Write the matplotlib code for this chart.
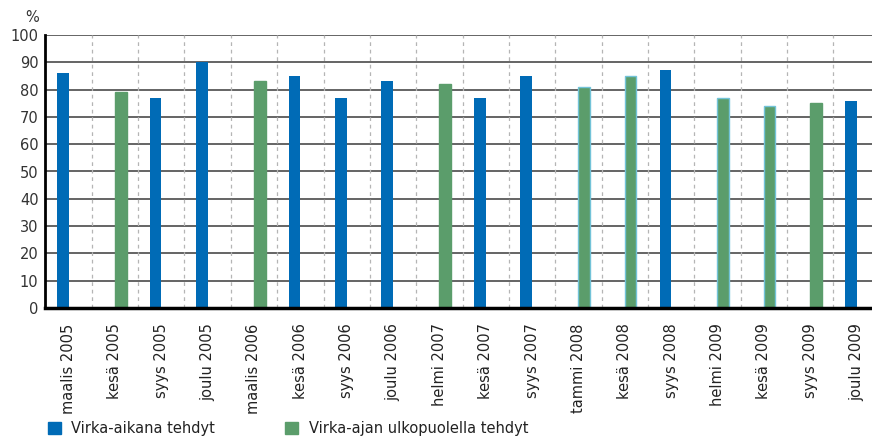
import numpy as np
import matplotlib
matplotlib.use("Agg")
import matplotlib.pyplot as plt
from matplotlib.patches import Patch

# Kyselykerrat ja arvot (%)
categories = ["maalis 2005", "kesä 2005", "syys 2005", "joulu 2005", "maalis 2006",
              "kesä 2006", "syys 2006", "joulu 2006", "helmi 2007", "kesä 2007",
              "syys 2007", "tammi 2008", "kesä 2008", "syys 2008", "helmi 2009",
              "kesä 2009", "syys 2009", "joulu 2009"]
virka_aikana = [86, 0, 77, 90, 0, 85, 77, 83, 0, 77, 85, 0, 0, 87, 0, 0, 0, 76]
virka_ajan_ulkop = [0, 79, 0, 0, 83, 0, 0, 0, 82, 0, 0, 81, 85, 0, 77, 74, 75, 0]
yticks = list(range(0, 101, 10))

blue = "#006BB6"
green = "#5B9D6B"
edge_light = "#72C3D8"

x = np.arange(len(categories))
w = 0.25

fig = plt.figure(figsize=(8.72, 4.44), dpi=100)
ax = fig.add_axes([45.4 / 872, 136 / 444, 1 - 45.4 / 872, 273 / 444])

# Horisontaaliset ja pystysuorat apuviivat
for y in yticks[1:]:
    ax.axhline(y, color="#3a3a3a", lw=1.1, zorder=1)
for b in x[:-1] + 0.5:
    ax.plot([b, b], [0, 100], color="#b5b5b5", lw=0.9, ls=(0, (3, 3)), zorder=1)

blue_vals = np.array(virka_aikana)
green_vals = np.array(virka_ajan_ulkop)
bm = blue_vals > 0
gm = green_vals > 0
ax.bar(x[bm] - w / 2, blue_vals[bm], width=w, color=blue, zorder=2)
edges = [edge_light if 11 <= i <= 15 else green for i in x[gm]]
ax.bar(x[gm] + w / 2, green_vals[gm], width=w, color=green,
       edgecolor=edges, linewidth=1.0, zorder=2)

ax.set_xlim(-0.5, -0.5 + (872 - 45.4) / 46.35)
ax.set_ylim(0, 100)
ax.set_yticks(yticks)
ax.set_xticks(x)
ax.set_xticklabels(categories, rotation=90, fontsize=10.5, color="#222222")
ax.tick_params(axis="x", length=0, pad=11)
ax.tick_params(axis="y", length=0, pad=5, labelsize=10.5, labelcolor="#333333")

for s in ["top", "right"]:
    ax.spines[s].set_visible(False)
ax.spines["left"].set_linewidth(2)
ax.spines["bottom"].set_linewidth(2.5)
ax.spines["left"].set_zorder(3)
ax.spines["bottom"].set_zorder(3)

fig.text(32 / 872, 1 - 17 / 444, "%", ha="center", va="center",
         fontsize=10.5, color="#333333")

handles = [Patch(color=blue, label="Virka-aikana tehdyt"),
           Patch(color=green, label="Virka-ajan ulkopuolella tehdyt")]
fig.legend(handles=handles, loc="lower left", bbox_to_anchor=(0.04, -0.012),
           ncol=2, frameon=False, fontsize=10.5, handlelength=0.9,
           handleheight=0.9, handletextpad=0.7, columnspacing=4.8,
           labelcolor="#222222")

fig.savefig("out.png", dpi=100)
